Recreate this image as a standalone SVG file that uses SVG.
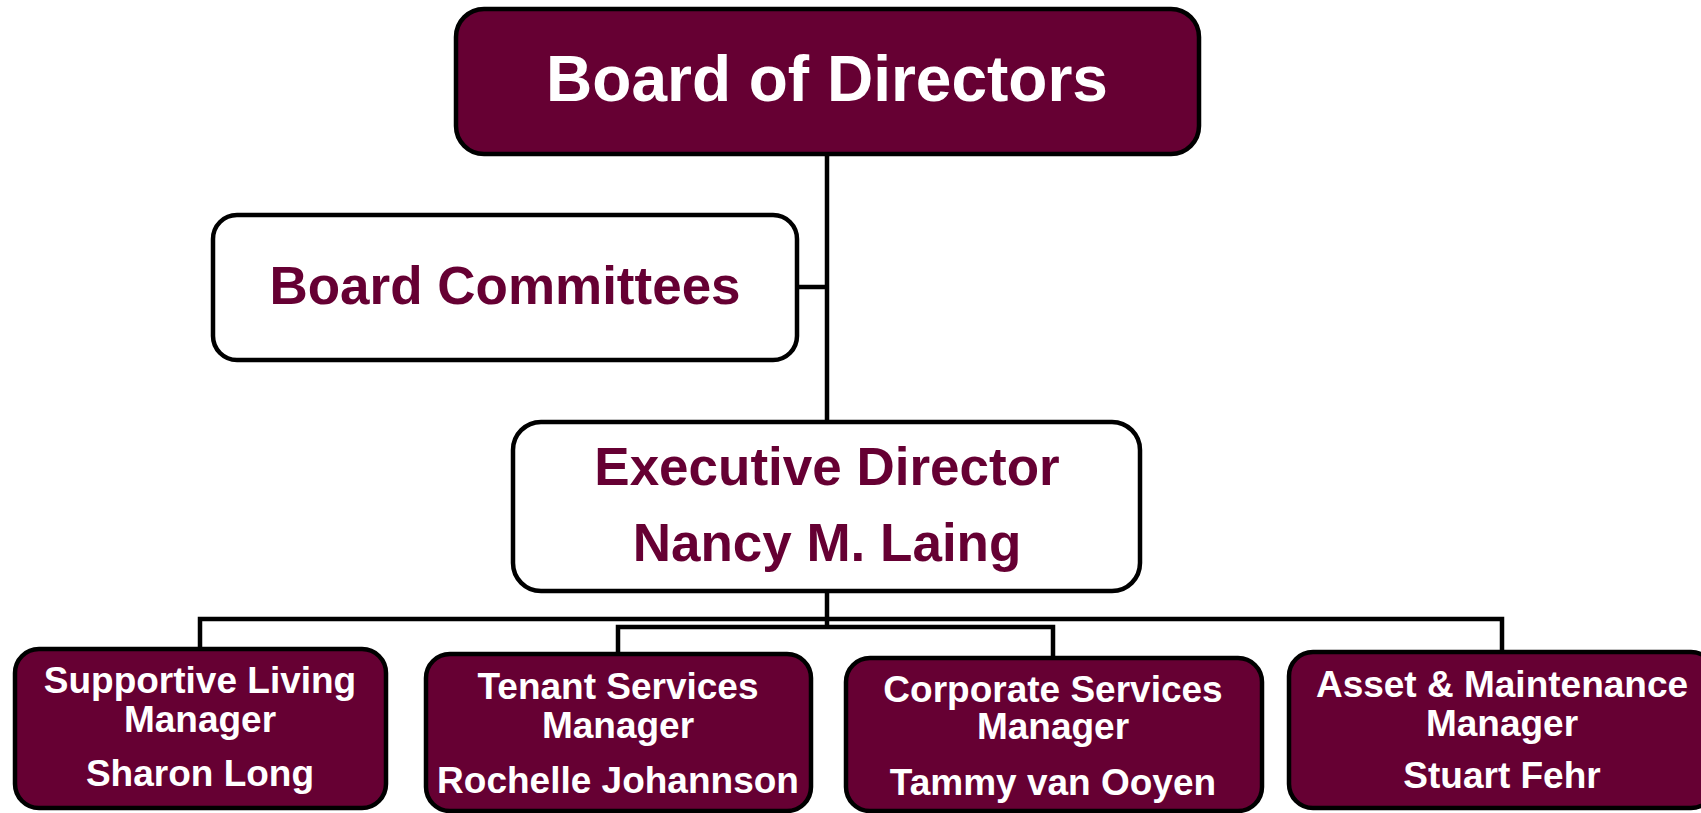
<svg xmlns="http://www.w3.org/2000/svg" width="1701" height="813" viewBox="0 0 1701 813">
  <style>
    .dark { fill: #660033; stroke: #000; stroke-width: 4.5; }
    .light { fill: #fff; stroke: #000; stroke-width: 4.5; }
    .wire { fill: none; stroke: #000; stroke-width: 4.5; stroke-linejoin: miter; }
    text { font-family: "Liberation Sans", Arial, sans-serif; font-weight: bold; text-anchor: middle; }
    .on-dark { fill: #fff; }
    .on-light { fill: #660033; }
  </style>

  <!-- connectors -->
  <g id="connectors">
    <line class="wire" x1="827" y1="154" x2="827" y2="421"/>
    <line class="wire" x1="797" y1="287" x2="827" y2="287"/>
    <line class="wire" x1="827" y1="591" x2="827" y2="627"/>
    <path class="wire" d="M200 649 V619 H1502 V652"/>
    <path class="wire" d="M618 653 V627 H1053 V658"/>
  </g>

  <g id="board-of-directors">
    <rect class="dark" x="456" y="9" width="743" height="145" rx="28"/>
    <text class="on-dark" x="827" y="101" font-size="64">Board of Directors</text>
  </g>

  <g id="board-committees">
    <rect class="light" x="213" y="215" width="584" height="145" rx="24"/>
    <text class="on-light" x="505" y="304" font-size="53">Board Committees</text>
  </g>

  <g id="executive-director">
    <rect class="light" x="513" y="422" width="627" height="169" rx="28"/>
    <text class="on-light" x="827" y="485" font-size="53">Executive Director</text>
    <text class="on-light" x="827" y="561" font-size="53">Nancy M. Laing</text>
  </g>

  <g id="supportive-living">
    <rect class="dark" x="15" y="649" width="371" height="159" rx="24"/>
    <text class="on-dark" x="200" y="693" font-size="37">Supportive Living</text>
    <text class="on-dark" x="200" y="732" font-size="37">Manager</text>
    <text class="on-dark" x="200" y="786" font-size="37">Sharon Long</text>
  </g>

  <g id="tenant-services">
    <rect class="dark" x="426" y="654" width="385" height="157" rx="24"/>
    <text class="on-dark" x="618" y="699" font-size="37">Tenant Services</text>
    <text class="on-dark" x="618" y="738" font-size="37">Manager</text>
    <text class="on-dark" x="618" y="793" font-size="37">Rochelle Johannson</text>
  </g>

  <g id="corporate-services">
    <rect class="dark" x="846" y="658" width="416" height="153" rx="24"/>
    <text class="on-dark" x="1053" y="702" font-size="37">Corporate Services</text>
    <text class="on-dark" x="1053" y="739" font-size="37">Manager</text>
    <text class="on-dark" x="1053" y="795" font-size="37">Tammy van Ooyen</text>
  </g>

  <g id="asset-maintenance">
    <rect class="dark" x="1289" y="652" width="426" height="156" rx="24"/>
    <text class="on-dark" x="1502" y="697" font-size="37">Asset &amp; Maintenance</text>
    <text class="on-dark" x="1502" y="736" font-size="37">Manager</text>
    <text class="on-dark" x="1502" y="788" font-size="37">Stuart Fehr</text>
  </g>
</svg>
